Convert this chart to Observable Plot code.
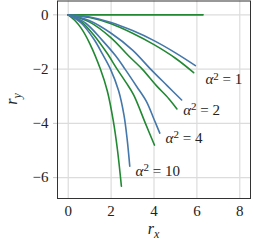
<!DOCTYPE html>
<html><head><meta charset="utf-8">
<script src="https://cdn.jsdelivr.net/npm/d3@7"></script>
<script src="https://cdn.jsdelivr.net/npm/@observablehq/plot@0.6"></script>
<style>
body{margin:0;background:#fff}
svg{display:block}
svg text{font-family:'Liberation Serif',serif !important}
</style>
</head><body><div id="chart"></div>
<script>
// Tick values
const xTicks = [0, 2, 4, 6, 8];
const yTicks = [0, -2, -4, -6];

// alpha^2 values of the curve pairs
const alphaSq = [1, 2, 4, 10];

// Reference (alpha^2 = 0) trajectory
const green0 = [[0, 0], [6.29, 0]];

// Blue curves, points [r_x, r_y]
const blue1 = [[0,0],[1,-0.08],[2,-0.28],[3,-0.58],[4,-0.95],[5,-1.4],[5.93,-1.87]];
const blue2 = [[0,0],[1,-0.22],[2,-0.68],[3,-1.3],[3.84,-2.0],[4.6,-2.6],[5.29,-3.14]];
const blue4 = [[0,0],[0.8,-0.3],[1.6,-0.95],[2.2,-1.5],[2.65,-2.0],[3.2,-2.65],[3.65,-3.2],[4.0,-3.85],[4.27,-4.36]];
const blue10 = [[0,0],[0.6,-0.3],[1.2,-0.9],[1.6,-1.45],[1.97,-2.0],[2.35,-2.8],[2.6,-3.7],[2.75,-4.6],[2.87,-5.58]];

// Green curves
const green1 = [[0,0],[1,-0.1],[2,-0.33],[3,-0.68],[4,-1.1],[5,-1.6],[5.85,-2.13]];
const green2 = [[0,0],[1,-0.27],[2,-0.85],[2.8,-1.5],[3.45,-2.0],[4.1,-2.6],[4.69,-3.09],[5.07,-3.47]];
const green4 = [[0,0],[0.6,-0.25],[1.2,-0.75],[1.8,-1.4],[2.28,-2.0],[2.7,-2.5],[3.05,-2.95],[3.6,-4.0],[4.02,-4.8]];
const green10 = [[0,0],[0.3,-0.2],[0.61,-0.5],[1.0,-1.05],[1.5,-2.0],[1.82,-2.8],[2.1,-3.9],[2.3,-5.0],[2.48,-6.32]];

// Label anchors (data coordinates, left edge / vertical middle)
const labelX = [6.4, 5.36, 4.54, 3.14];
const labelY = [-2.39, -3.53, -4.56, -5.76];

const blueCurves = [blue1, blue2, blue4, blue10];
const greenCurves = [green1, green2, green4, green10];

const rows = [];
green0.forEach(([x, y]) => rows.push({key: "g0", series: "G", x, y}));
alphaSq.forEach((a, i) => {
  greenCurves[i].forEach(([x, y]) => rows.push({key: "g" + a, series: "G", x, y}));
  blueCurves[i].forEach(([x, y]) => rows.push({key: "b" + a, series: "B", x, y}));
});
const labels = alphaSq.map((a, i) => ({a, x: labelX[i], y: labelY[i]}));

const FONT = "'Liberation Serif', serif";

const plot = Plot.plot({
  width: 253, height: 246,
  marginLeft: 57, marginRight: 3, marginTop: 0.5, marginBottom: 48,
  style: {fontFamily: FONT, fontSize: "15px", background: "white", color: "#222"},
  x: {domain: [-0.5, 8.5], ticks: xTicks, label: null},
  y: {domain: [-6.77, 0.51], ticks: yTicks, label: null},
  color: {type: "ordinal", domain: ["B", "G"], range: ["#4477AA", "#228833"]},
  marks: [
    Plot.gridX(xTicks, {stroke: "#dcdcdc", strokeOpacity: 1, strokeWidth: 1.2}),
    Plot.gridY(yTicks, {stroke: "#dcdcdc", strokeOpacity: 1, strokeWidth: 1.2}),
    Plot.axisX(xTicks, {tickSize: 0, tickPadding: 7, label: null, fontSize: 15, fontFamily: FONT}),
    Plot.axisY(yTicks, {tickSize: 4, tickPadding: 5, stroke: "#c8c8c8", label: null, fontSize: 15, fontFamily: FONT}),
    Plot.line(rows, {x: "x", y: "y", z: "key", stroke: "series", strokeWidth: 1.6, curve: "catmull-rom"}),
    Plot.frame({stroke: "#333", strokeWidth: 1}),
    Plot.text(labels, {x: "x", y: "y", text: d => `α² = ${d.a}`, textAnchor: "start", fontSize: 15, fontFamily: FONT, fill: "#222", className: "alab"})
  ]
});

const svg = d3.select(plot);
svg.selectAll("g.alab text").each(function(d, i) {
  const t = d3.select(this);
  const a = alphaSq[i];
  t.text(null);
  t.append("tspan").attr("font-style", "italic").text("α");
  t.append("tspan").attr("font-size", "11px").attr("dy", "-0.45em").text("2");
  t.append("tspan").attr("dy", "0.32em").text(" = " + a);
});

// Axis labels
const xl = svg.append("text").attr("x", 153.5).attr("y", 234).attr("text-anchor", "middle")
  .attr("font-family", FONT).attr("font-size", 16).attr("fill", "#222");
xl.append("tspan").attr("font-style", "italic").text("r");
xl.append("tspan").attr("font-style", "italic").attr("font-size", 12).attr("dy", "0.3em").text("x");

const yl = svg.append("text").attr("transform", "translate(17,99) rotate(-90)").attr("text-anchor", "middle")
  .attr("font-family", FONT).attr("font-size", 16).attr("fill", "#222");
yl.append("tspan").attr("font-style", "italic").text("r");
yl.append("tspan").attr("font-style", "italic").attr("font-size", 12).attr("dy", "0.3em").text("y");

document.getElementById("chart").appendChild(plot);
</script>
</body></html>
